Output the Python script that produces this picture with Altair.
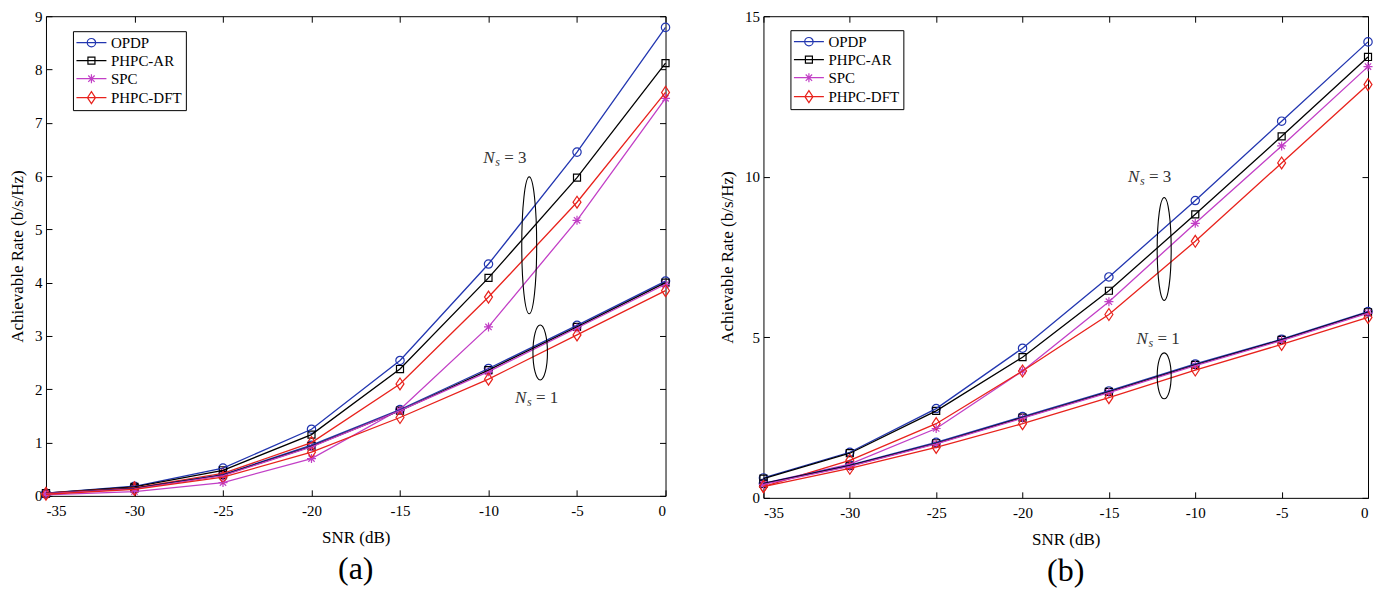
import altair as alt
import pandas as pd

SERIF = "Liberation Serif"

snr = [-35, -30, -25, -20, -15, -10, -5, 0]
methods = ["OPDP", "PHPC-AR", "SPC", "PHPC-DFT"]
marker_keys = ["o", "s", "*", "d"]
colors = ["#2236b0", "#000000", "#c23fc6", "#e8221c"]

# ---- panel (a): achievable rate (b/s/Hz) ----
a_opdp_3 = [0.05, 0.18, 0.52, 1.25, 2.54, 4.35, 6.45, 8.79]
a_ar_3 = [0.05, 0.17, 0.48, 1.15, 2.38, 4.09, 5.97, 8.12]
a_spc_3 = [0.02, 0.08, 0.25, 0.70, 1.62, 3.17, 5.17, 7.46]
a_dft_3 = [0.05, 0.15, 0.42, 1.00, 2.10, 3.73, 5.51, 7.57]
a_opdp_1 = [0.04, 0.14, 0.40, 0.95, 1.62, 2.39, 3.20, 4.03]
a_ar_1 = [0.04, 0.14, 0.39, 0.93, 1.60, 2.36, 3.17, 4.00]
a_spc_1 = [0.04, 0.13, 0.38, 0.92, 1.60, 2.33, 3.15, 3.97]
a_dft_1 = [0.03, 0.12, 0.35, 0.82, 1.47, 2.19, 3.02, 3.85]

# ---- panel (b) ----
b_opdp_3 = [0.62, 1.42, 2.78, 4.66, 6.88, 9.26, 11.73, 14.20]
b_ar_3 = [0.60, 1.39, 2.71, 4.38, 6.45, 8.83, 11.26, 13.73]
b_spc_3 = [0.45, 1.05, 2.16, 3.95, 6.11, 8.55, 10.96, 13.43]
b_dft_3 = [0.35, 1.17, 2.31, 3.95, 5.71, 7.99, 10.43, 12.87]
b_opdp_1 = [0.45, 1.02, 1.73, 2.53, 3.33, 4.17, 4.94, 5.80]
b_ar_1 = [0.44, 1.00, 1.70, 2.50, 3.30, 4.14, 4.92, 5.78]
b_spc_1 = [0.42, 0.98, 1.68, 2.48, 3.28, 4.12, 4.90, 5.75]
b_dft_1 = [0.35, 0.92, 1.57, 2.31, 3.12, 3.98, 4.78, 5.62]

# ---- annotations (data units) ----
ns_labels = ["3", "1"]
a_label_snr = [-10.3, -8.5]
a_label_rate = [6.34, 1.84]
a_ell_snr = [-7.7, -7.08]
a_ell_rate = [4.7, 2.69]
b_label_snr = [-13.9, -13.4]
b_label_rate = [10.0, 4.94]
b_ell_snr = [-11.8, -11.8]
b_ell_rate = [7.75, 3.8]

# marker glyphs (MATLAB-like open markers)
marker_shapes = [
    "circle",
    "M-0.84,-0.84L0.84,-0.84L0.84,0.84L-0.84,0.84Z",
    "M0,-1.08L0,1.08M-1.08,0L1.08,0M-0.76,-0.76L0.76,0.76M-0.76,0.76L0.76,-0.76",
    "M0,-1.43L0.95,0L0,1.43L-0.95,0Z",
]

# legend glyphs: line with marker in the middle
cx = 1.4
leg_paths = {
    "OPDP": f"M-1.6,0L4.4,0M{cx+0.84},0A0.84,0.84 0 1,1 {cx-0.84},0A0.84,0.84 0 1,1 {cx+0.84},0",
    "PHPC-AR": f"M-1.6,0L4.4,0M{cx-0.7},-0.7L{cx+0.7},-0.7L{cx+0.7},0.7L{cx-0.7},0.7Z",
    "SPC": f"M-1.6,0L4.4,0M{cx},-0.9L{cx},0.9M{cx-0.64},-0.64L{cx+0.64},0.64M{cx-0.64},0.64L{cx+0.64},-0.64",
    "PHPC-DFT": f"M-1.6,0L4.4,0M{cx},-1.2L{cx+0.8},0L{cx},1.2L{cx-0.8},0Z",
}
leg_expr = " : ".join(
    f"datum.value === '{k}' ? '{v}'" for k, v in leg_paths.items()
) + " : 'circle'"


def series_df(series):
    rows = []
    for (m, ns), vals in series.items():
        mk = marker_keys[methods.index(m)]
        for s, v in zip(snr, vals):
            rows.append({"method": m, "marker": mk, "ns": ns, "series": f"{m} Ns={ns}",
                         "snr": s, "rate": v})
    return pd.DataFrame(rows)


def ellipse_path(w, h):
    a = w / h
    return f"M0,-1A{a:.3f},1 0 1,1 0,1A{a:.3f},1 0 1,1 0,-1"


def panel(df, ymax, ystep, W, H, label_snr, label_rate, ell_snr, ell_rate,
          ell_sizes, leg_xy, tag):
    xs = alt.Scale(domain=[-35, 0], nice=False, zero=False)
    ys = alt.Scale(domain=[0, ymax], nice=False, zero=True)
    yticks = list(range(0, ymax + 1, ystep))

    font_kw = dict(labelFont=SERIF, labelFontSize=15, labelColor="black",
                   titleFont=SERIF, titleFontSize=17, titleFontWeight="normal",
                   titleColor="black")
    main_x = alt.Axis(values=snr, title="SNR (dB)", ticks=False, tickSize=0, domain=False,
                      grid=False, labelPadding=8, labelExpr="'' + datum.value",
                      titlePadding=11, **font_kw)
    main_y = alt.Axis(values=yticks, title="Achievable Rate (b/s/Hz)", ticks=False, tickSize=0,
                      domain=False, grid=False, labelPadding=4, labelExpr="'' + datum.value",
                      titlePadding=8, **font_kw)

    def tick_axis(orient, off, vals):
        return alt.Axis(orient=orient, offset=off, values=vals, labels=False, domain=False,
                        grid=False, ticks=True, tickSize=6, tickColor="black", tickWidth=1,
                        title=None)

    leg = alt.Legend(
        title=None, orient="none", legendX=leg_xy[0], legendY=leg_xy[1],
        fillColor="white", strokeColor="black", padding=4, rowPadding=2,
        labelFont=SERIF, labelFontSize=15, labelColor="black", labelOffset=19,
        symbolSize=100, symbolStrokeWidth=1.2,
        symbolType={"expr": leg_expr},
    )
    cscale = alt.Scale(domain=methods, range=colors)

    base = alt.Chart(df)
    points = base.mark_point(filled=False, size=70, strokeWidth=1.2, opacity=1).encode(
        x=alt.X("snr:Q", scale=xs, axis=None),
        y=alt.Y("rate:Q", scale=ys, axis=None),
        color=alt.Color("method:N", scale=cscale, legend=leg),
        shape=alt.Shape("marker:N", scale=alt.Scale(domain=marker_keys, range=marker_shapes),
                        legend=None),
        detail="series:N",
    )
    lines = base.mark_line(strokeWidth=1.3).encode(
        x=alt.X("snr:Q", scale=xs, axis=main_x),
        y=alt.Y("rate:Q", scale=ys, axis=main_y),
        color=alt.Color("method:N", scale=cscale),
        detail="series:N",
    )

    ell_layers = []
    axes_sets = [
        (tick_axis("top", -H, snr), tick_axis("right", -W, yticks)),
        (tick_axis("bottom", -H, snr), tick_axis("left", -W, yticks)),
    ]
    for i in range(2):
        edf = pd.DataFrame({"snr": [ell_snr[i]], "rate": [ell_rate[i]]})
        w, h = ell_sizes[i]
        ell_layers.append(
            alt.Chart(edf).mark_point(shape=ellipse_path(w, h), size=h * h, filled=False,
                                      color="black", strokeWidth=1.1, opacity=1).encode(
                x=alt.X("snr:Q", scale=xs, axis=axes_sets[i][0]),
                y=alt.Y("rate:Q", scale=ys, axis=axes_sets[i][1]),
            )
        )

    tdf = pd.DataFrame({"snr": label_snr, "rate": label_rate, "n": ns_labels,
                        "eq": ["= " + n for n in ns_labels]})
    tbase = alt.Chart(tdf)
    enc = dict(x=alt.X("snr:Q", scale=xs, axis=None), y=alt.Y("rate:Q", scale=ys, axis=None))
    t_n = tbase.mark_text(text="N", align="left", baseline="middle", font=SERIF, fontSize=17,
                          fontStyle="italic", color="#333333").encode(**enc)
    t_s = tbase.mark_text(text="s", align="left", baseline="middle", font=SERIF, fontSize=12,
                          fontStyle="italic", dx=12, dy=4, color="#333333").encode(**enc)
    t_eq = tbase.mark_text(align="left", baseline="middle", font=SERIF, fontSize=17,
                           dx=21, color="#333333").encode(text="eq:N", **enc)

    return alt.layer(points, lines, *ell_layers, t_n, t_s, t_eq).resolve_axis(
        x="independent", y="independent"
    ).properties(
        width=W, height=H,
        title=alt.TitleParams(tag, orient="bottom", anchor="middle", frame="group", offset=8,
                              font=SERIF, fontSize=32, fontWeight="normal", color="black"),
    )


df_a = series_df({
    ("OPDP", 3): a_opdp_3, ("PHPC-AR", 3): a_ar_3, ("SPC", 3): a_spc_3, ("PHPC-DFT", 3): a_dft_3,
    ("OPDP", 1): a_opdp_1, ("PHPC-AR", 1): a_ar_1, ("SPC", 1): a_spc_1, ("PHPC-DFT", 1): a_dft_1,
})
df_b = series_df({
    ("OPDP", 3): b_opdp_3, ("PHPC-AR", 3): b_ar_3, ("SPC", 3): b_spc_3, ("PHPC-DFT", 3): b_dft_3,
    ("OPDP", 1): b_opdp_1, ("PHPC-AR", 1): b_ar_1, ("SPC", 1): b_spc_1, ("PHPC-DFT", 1): b_dft_1,
})

pa = panel(df_a, 9, 1, 620, 480, a_label_snr, a_label_rate, a_ell_snr, a_ell_rate,
           [(15, 137), (14.5, 55)], (27, 15), "(a)")
pb = panel(df_b, 15, 5, 605, 482, b_label_snr, b_label_rate, b_ell_snr, b_ell_rate,
           [(14, 103), (14, 46)], (27, 14), "(b)")

chart = alt.hconcat(pa, pb, spacing=44).resolve_scale(
    x="independent", y="independent", color="independent", shape="independent"
).properties(
    padding=0
).configure_view(
    stroke="black", strokeWidth=1
).configure_axis(
    labelFont=SERIF, labelFontSize=15, labelColor="black",
    titleFont=SERIF, titleFontSize=17, titleFontWeight="normal", titleColor="black",
    tickColor="black", tickWidth=1,
).configure_title(
    font=SERIF, fontSize=32, fontWeight="normal", color="black"
)

chart.save("out.html", embed_options={"renderer": "svg", "actions": False})
